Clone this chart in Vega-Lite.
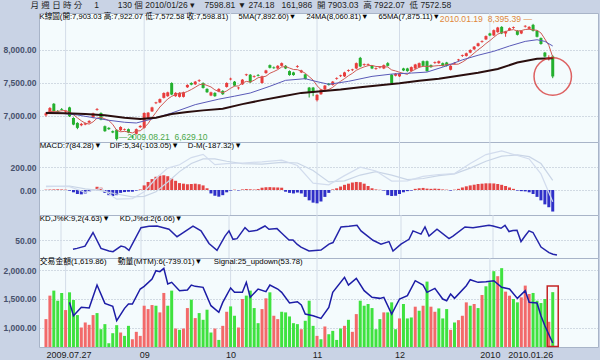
{
"$schema": "https://vega.github.io/schema/vega-lite/v6.json",
"background": "#c9d3e5",
"padding": {"left": 2, "right": 3, "top": 0, "bottom": 0},
"spacing": 0,
"bounds": "flush",
"title": {"text": "月\u00a0週\u00a0日\u00a0時\u00a0分\u00a0\u00a0\u00a0\u00a0\u00a01\u00a0\u00a0\u00a0\u00a0\u00a0\u00a0\u00a0\u00a0130\u00a0個\u00a02010/01/26\u00a0▾\u00a0\u00a0\u00a0\u00a07598.81\u00a0▼\u00a0274.18\u00a0\u00a0\u00a0161,986\u00a0\u00a0開\u00a07903.03\u00a0\u00a0高\u00a07922.07\u00a0\u00a0低\u00a07572.58", "anchor": "start", "fontSize": 8.5, "fontWeight": "normal", "color": "#1e1e1e", "offset": 3, "dx": 28},
"config": {
  "font": "Liberation Sans, Noto Sans CJK TC, sans-serif",
  "view": {"fill": "#f4fbfd", "stroke": "#a8b4c8"},
  "axisY": {"minExtent": 36, "maxExtent": 36, "ticks": false, "domain": false, "labelFontWeight": "bold", "labelFontSize": 8.5, "labelColor": "#46516c", "gridDash": [1, 2], "gridColor": "#aeb9c8", "labelPadding": 3},
  "legend": {"labelFont": "Liberation Sans, Noto Sans CJK TC, sans-serif"}
},
"resolve": {"scale": {"x": "independent", "y": "independent", "color": "independent"}},
"datasets": {
  "months": [{"i":5},{"i":25},{"i":47},{"i":69},{"i":90},{"i":113}],
  "k": [
{"i":0,"o":7010,"h":7060,"l":6990,"c":7040,"m5":7050},
{"i":1,"o":7040,"h":7135,"l":7030,"c":7120,"m5":7065},
{"i":2,"o":7185,"h":7195,"l":7060,"c":7070,"m5":7070},
{"i":3,"o":7075,"h":7090,"l":7050,"c":7060,"m5":7070},
{"i":4,"o":7106,"h":7120,"l":7085,"c":7094,"m5":7078},
{"i":5,"o":7060,"h":7085,"l":7045,"c":7070,"m5":7084},
{"i":6,"o":7130,"h":7140,"l":6985,"c":6995,"m5":7059},
{"i":7,"o":6970,"h":6980,"l":6860,"c":6870,"m5":7019},
{"i":8,"o":6895,"h":6905,"l":6800,"c":6820,"m5":6971},
{"i":9,"o":6860,"h":6895,"l":6845,"c":6880,"m5":6927},
{"i":10,"o":6870,"h":6900,"l":6860,"c":6890,"m5":6891},
{"i":11,"o":6900,"h":6935,"l":6890,"c":6925,"m5":6877},
{"i":12,"o":6975,"h":7050,"l":6965,"c":7040,"m5":6911},
{"i":13,"o":7092,"h":7120,"l":7080,"c":7104,"m5":6967},
{"i":14,"o":7045,"h":7055,"l":6935,"c":6945,"m5":6980},
{"i":15,"o":6845,"h":6855,"l":6760,"c":6770,"m5":6956},
{"i":16,"o":6820,"h":6830,"l":6790,"c":6800,"m5":6931},
{"i":17,"o":6770,"h":6780,"l":6740,"c":6750,"m5":6873},
{"i":18,"o":6790,"h":6800,"l":6629.1,"c":6650,"m5":6783},
{"i":19,"o":6785,"h":6845,"l":6770,"c":6833,"m5":6761},
{"i":20,"o":6790,"h":6810,"l":6780,"c":6800,"m5":6767},
{"i":21,"o":6800,"h":6810,"l":6740,"c":6750,"m5":6757},
{"i":22,"o":6688,"h":6710,"l":6660,"c":6676,"m5":6743},
{"i":23,"o":6730,"h":6810,"l":6720,"c":6800,"m5":6773},
{"i":24,"o":6830,"h":6860,"l":6820,"c":6850,"m5":6776},
{"i":25,"o":6820,"h":7055,"l":6810,"c":7045,"m5":6825},
{"i":26,"o":6970,"h":7060,"l":6960,"c":7050,"m5":6885},
{"i":27,"o":7070,"h":7140,"l":7060,"c":7130,"m5":6975},
{"i":28,"o":7194,"h":7215,"l":7180,"c":7206,"m5":7055},
{"i":29,"o":7205,"h":7265,"l":7195,"c":7255,"m5":7136},
{"i":30,"o":7275,"h":7358,"l":7265,"c":7348,"m5":7197},
{"i":31,"o":7300,"h":7368,"l":7290,"c":7358,"m5":7258},
{"i":32,"o":7500,"h":7510,"l":7315,"c":7325,"m5":7297},
{"i":33,"o":7300,"h":7360,"l":7290,"c":7350,"m5":7327},
{"i":34,"o":7290,"h":7360,"l":7280,"c":7350,"m5":7346},
{"i":35,"o":7290,"h":7368,"l":7280,"c":7358,"m5":7348},
{"i":36,"o":7435,"h":7480,"l":7425,"c":7470,"m5":7371},
{"i":37,"o":7500,"h":7510,"l":7465,"c":7475,"m5":7401},
{"i":38,"o":7480,"h":7530,"l":7470,"c":7520,"m5":7435},
{"i":39,"o":7529,"h":7555,"l":7515,"c":7541,"m5":7472},
{"i":40,"o":7500,"h":7510,"l":7415,"c":7425,"m5":7485},
{"i":41,"o":7410,"h":7420,"l":7350,"c":7360,"m5":7463},
{"i":42,"o":7310,"h":7368,"l":7300,"c":7358,"m5":7440},
{"i":43,"o":7350,"h":7360,"l":7290,"c":7300,"m5":7396},
{"i":44,"o":7370,"h":7420,"l":7360,"c":7410,"m5":7371},
{"i":45,"o":7380,"h":7390,"l":7320,"c":7330,"m5":7352},
{"i":46,"o":7440,"h":7510,"l":7430,"c":7500,"m5":7380},
{"i":47,"o":7554,"h":7580,"l":7540,"c":7566,"m5":7420},
{"i":48,"o":7520,"h":7530,"l":7450,"c":7460,"m5":7452},
{"i":49,"o":7419,"h":7440,"l":7400,"c":7431,"m5":7455},
{"i":50,"o":7480,"h":7560,"l":7470,"c":7550,"m5":7499},
{"i":51,"o":7619,"h":7640,"l":7605,"c":7631,"m5":7524},
{"i":52,"o":7625,"h":7635,"l":7500,"c":7510,"m5":7514},
{"i":53,"o":7594,"h":7615,"l":7580,"c":7606,"m5":7542},
{"i":54,"o":7621,"h":7635,"l":7600,"c":7609,"m5":7580},
{"i":55,"o":7500,"h":7610,"l":7490,"c":7600,"m5":7590},
{"i":56,"o":7650,"h":7700,"l":7640,"c":7690,"m5":7603},
{"i":57,"o":7770,"h":7780,"l":7720,"c":7730,"m5":7647},
{"i":58,"o":7736,"h":7750,"l":7715,"c":7724,"m5":7673},
{"i":59,"o":7720,"h":7770,"l":7710,"c":7760,"m5":7702},
{"i":60,"o":7760,"h":7810,"l":7750,"c":7800,"m5":7742},
{"i":61,"o":7760,"h":7770,"l":7710,"c":7720,"m5":7748},
{"i":62,"o":7680,"h":7690,"l":7610,"c":7620,"m5":7726},
{"i":63,"o":7660,"h":7670,"l":7610,"c":7620,"m5":7704},
{"i":64,"o":7744,"h":7770,"l":7730,"c":7756,"m5":7702},
{"i":65,"o":7660,"h":7700,"l":7650,"c":7690,"m5":7680},
{"i":66,"o":7630,"h":7640,"l":7550,"c":7560,"m5":7648},
{"i":67,"o":7430,"h":7440,"l":7280,"c":7360,"m5":7596},
{"i":68,"o":7430,"h":7440,"l":7300,"c":7360,"m5":7544},
{"i":69,"o":7240,"h":7330,"l":7220,"c":7320,"m5":7458},
{"i":70,"o":7330,"h":7410,"l":7320,"c":7400,"m5":7400},
{"i":71,"o":7400,"h":7470,"l":7390,"c":7460,"m5":7380},
{"i":72,"o":7490,"h":7500,"l":7460,"c":7470,"m5":7402},
{"i":73,"o":7470,"h":7530,"l":7460,"c":7520,"m5":7434},
{"i":74,"o":7564,"h":7585,"l":7550,"c":7576,"m5":7484},
{"i":75,"o":7604,"h":7625,"l":7590,"c":7616,"m5":7526},
{"i":76,"o":7600,"h":7670,"l":7590,"c":7660,"m5":7566},
{"i":77,"o":7684,"h":7705,"l":7670,"c":7696,"m5":7610},
{"i":78,"o":7694,"h":7715,"l":7680,"c":7706,"m5":7646},
{"i":79,"o":7720,"h":7810,"l":7710,"c":7800,"m5":7692},
{"i":80,"o":7880,"h":7895,"l":7740,"c":7750,"m5":7720},
{"i":81,"o":7774,"h":7795,"l":7760,"c":7786,"m5":7744},
{"i":82,"o":7774,"h":7795,"l":7760,"c":7786,"m5":7762},
{"i":83,"o":7760,"h":7770,"l":7710,"c":7720,"m5":7766},
{"i":84,"o":7714,"h":7735,"l":7700,"c":7726,"m5":7750},
{"i":85,"o":7734,"h":7755,"l":7720,"c":7746,"m5":7748},
{"i":86,"o":7720,"h":7780,"l":7710,"c":7770,"m5":7746},
{"i":87,"o":7800,"h":7815,"l":7750,"c":7760,"m5":7742},
{"i":88,"o":7625,"h":7635,"l":7470,"c":7500,"m5":7698},
{"i":89,"o":7610,"h":7650,"l":7600,"c":7640,"m5":7682},
{"i":90,"o":7600,"h":7650,"l":7590,"c":7640,"m5":7662},
{"i":91,"o":7720,"h":7730,"l":7680,"c":7690,"m5":7646},
{"i":92,"o":7720,"h":7730,"l":7670,"c":7680,"m5":7630},
{"i":93,"o":7680,"h":7750,"l":7670,"c":7740,"m5":7678},
{"i":94,"o":7720,"h":7790,"l":7710,"c":7780,"m5":7706},
{"i":95,"o":7740,"h":7810,"l":7730,"c":7800,"m5":7738},
{"i":96,"o":7830,"h":7840,"l":7750,"c":7760,"m5":7752},
{"i":97,"o":7830,"h":7840,"l":7670,"c":7680,"m5":7752},
{"i":98,"o":7770,"h":7780,"l":7730,"c":7740,"m5":7752},
{"i":99,"o":7804,"h":7825,"l":7790,"c":7816,"m5":7758},
{"i":100,"o":7800,"h":7840,"l":7790,"c":7830,"m5":7764},
{"i":101,"o":7800,"h":7810,"l":7750,"c":7760,"m5":7764},
{"i":102,"o":7810,"h":7820,"l":7750,"c":7760,"m5":7780},
{"i":103,"o":7700,"h":7770,"l":7690,"c":7760,"m5":7784},
{"i":104,"o":7794,"h":7815,"l":7780,"c":7806,"m5":7782},
{"i":105,"o":7844,"h":7865,"l":7830,"c":7856,"m5":7786},
{"i":106,"o":7909,"h":7930,"l":7895,"c":7921,"m5":7817},
{"i":107,"o":7910,"h":7960,"l":7900,"c":7950,"m5":7855},
{"i":108,"o":7960,"h":8010,"l":7950,"c":8000,"m5":7903},
{"i":109,"o":8010,"h":8060,"l":8000,"c":8050,"m5":7953},
{"i":110,"o":8060,"h":8110,"l":8050,"c":8100,"m5":8003},
{"i":111,"o":8124,"h":8145,"l":8110,"c":8136,"m5":8046},
{"i":112,"o":8160,"h":8220,"l":8150,"c":8210,"m5":8098},
{"i":113,"o":8250,"h":8260,"l":8210,"c":8220,"m5":8142},
{"i":114,"o":8220,"h":8310,"l":8210,"c":8300,"m5":8192},
{"i":115,"o":8270,"h":8350,"l":8260,"c":8340,"m5":8240},
{"i":116,"o":8350,"h":8360,"l":8240,"c":8250,"m5":8264},
{"i":117,"o":8250,"h":8290,"l":8200,"c":8280,"m5":8278},
{"i":118,"o":8300,"h":8340,"l":8290,"c":8330,"m5":8300},
{"i":119,"o":8334,"h":8355,"l":8320,"c":8346,"m5":8308},
{"i":120,"o":8290,"h":8300,"l":8220,"c":8230,"m5":8286},
{"i":121,"o":8250,"h":8300,"l":8240,"c":8290,"m5":8294},
{"i":122,"o":8354,"h":8375,"l":8340,"c":8366,"m5":8310},
{"i":123,"o":8320,"h":8360,"l":8310,"c":8350,"m5":8314},
{"i":124,"o":8380,"h":8395.39,"l":8280,"c":8290,"m5":8304},
{"i":125,"o":8290,"h":8300,"l":8190,"c":8200,"m5":8298},
{"i":126,"o":8180,"h":8190,"l":8080,"c":8090,"m5":8258},
{"i":127,"o":7960,"h":7970,"l":7890,"c":7900,"m5":8166},
{"i":128,"o":7860,"h":7920,"l":7840,"c":7873,"m5":8071},
{"i":129,"o":7903.03,"h":7922.07,"l":7572.58,"c":7598.81,"m5":7892.6}
  ],
  "m24": [{"i":0,"v":7055},{"i":4,"v":7040},{"i":8,"v":7015},{"i":12,"v":6975},{"i":16,"v":6935},{"i":20,"v":6905},{"i":23,"v":6894},{"i":27,"v":6955},{"i":32,"v":7045},{"i":38,"v":7172},{"i":44,"v":7255},{"i":48,"v":7300},{"i":52,"v":7348},{"i":57,"v":7450},{"i":61,"v":7540},{"i":66,"v":7565},{"i":69,"v":7520},{"i":72,"v":7480},{"i":77,"v":7525},{"i":83,"v":7600},{"i":88,"v":7635},{"i":93,"v":7650},{"i":97,"v":7665},{"i":102,"v":7760},{"i":106,"v":7850},{"i":110,"v":7920},{"i":114,"v":7980},{"i":118,"v":8060},{"i":122,"v":8130},{"i":125,"v":8155},{"i":127,"v":8130},{"i":129,"v":8060.81}],
  "m65": [{"i":0,"v":7045},{"i":5,"v":7040},{"i":10,"v":7030},{"i":15,"v":7010},{"i":20,"v":6975},{"i":24,"v":6955},{"i":28,"v":6975},{"i":32,"v":7030},{"i":36,"v":7060},{"i":40,"v":7085},{"i":45,"v":7110},{"i":50,"v":7180},{"i":55,"v":7240},{"i":60,"v":7295},{"i":65,"v":7350},{"i":70,"v":7375},{"i":75,"v":7400},{"i":80,"v":7435},{"i":85,"v":7465},{"i":90,"v":7495},{"i":95,"v":7535},{"i":100,"v":7565},{"i":105,"v":7610},{"i":110,"v":7655},{"i":115,"v":7712},{"i":120,"v":7810},{"i":125,"v":7868},{"i":129,"v":7875.11}],
  "hist": [{"i":0,"v":3},{"i":1,"v":4},{"i":2,"v":5},{"i":3,"v":6},{"i":4,"v":5},{"i":5,"v":3},{"i":6,"v":-6},{"i":7,"v":-20},{"i":8,"v":-35},{"i":9,"v":-38},{"i":10,"v":-30},{"i":11,"v":-15},{"i":12,"v":5},{"i":13,"v":28},{"i":14,"v":20},{"i":15,"v":-25},{"i":16,"v":-45},{"i":17,"v":-52},{"i":18,"v":-45},{"i":19,"v":-25},{"i":20,"v":-18},{"i":21,"v":-15},{"i":22,"v":-15},{"i":23,"v":-5},{"i":24,"v":5},{"i":25,"v":40},{"i":26,"v":70},{"i":27,"v":95},{"i":28,"v":115},{"i":29,"v":125},{"i":30,"v":128},{"i":31,"v":120},{"i":32,"v":100},{"i":33,"v":80},{"i":34,"v":60},{"i":35,"v":55},{"i":36,"v":50},{"i":37,"v":52},{"i":38,"v":55},{"i":39,"v":50},{"i":40,"v":40},{"i":41,"v":15},{"i":42,"v":-30},{"i":43,"v":-50},{"i":44,"v":-58},{"i":45,"v":-45},{"i":46,"v":-20},{"i":47,"v":-5},{"i":48,"v":3},{"i":49,"v":-4},{"i":50,"v":5},{"i":51,"v":8},{"i":52,"v":6},{"i":53,"v":4},{"i":54,"v":8},{"i":55,"v":20},{"i":56,"v":24},{"i":57,"v":25},{"i":58,"v":23},{"i":59,"v":22},{"i":60,"v":20},{"i":61,"v":-15},{"i":62,"v":-25},{"i":63,"v":-30},{"i":64,"v":-22},{"i":65,"v":-30},{"i":66,"v":-60},{"i":67,"v":-90},{"i":68,"v":-110},{"i":69,"v":-116},{"i":70,"v":-100},{"i":71,"v":-60},{"i":72,"v":-25},{"i":73,"v":5},{"i":74,"v":15},{"i":75,"v":30},{"i":76,"v":45},{"i":77,"v":55},{"i":78,"v":65},{"i":79,"v":70},{"i":80,"v":68},{"i":81,"v":55},{"i":82,"v":35},{"i":83,"v":15},{"i":84,"v":5},{"i":85,"v":2},{"i":86,"v":-5},{"i":87,"v":-45},{"i":88,"v":-52},{"i":89,"v":-50},{"i":90,"v":-35},{"i":91,"v":-20},{"i":92,"v":-10},{"i":93,"v":-5},{"i":94,"v":10},{"i":95,"v":15},{"i":96,"v":18},{"i":97,"v":12},{"i":98,"v":10},{"i":99,"v":12},{"i":100,"v":10},{"i":101,"v":5},{"i":102,"v":3},{"i":103,"v":-5},{"i":104,"v":3},{"i":105,"v":10},{"i":106,"v":22},{"i":107,"v":32},{"i":108,"v":40},{"i":109,"v":46},{"i":110,"v":52},{"i":111,"v":55},{"i":112,"v":58},{"i":113,"v":58},{"i":114,"v":57},{"i":115,"v":52},{"i":116,"v":45},{"i":117,"v":35},{"i":118,"v":22},{"i":119,"v":10},{"i":120,"v":-5},{"i":121,"v":-10},{"i":122,"v":-12},{"i":123,"v":-20},{"i":124,"v":-35},{"i":125,"v":-60},{"i":126,"v":-90},{"i":127,"v":-125},{"i":128,"v":-150},{"i":129,"v":-187.32}],
  "macd": [{"i":0,"v":30},{"i":6,"v":35},{"i":10,"v":10},{"i":14,"v":-5},{"i":18,"v":-35},{"i":22,"v":-60},{"i":25,"v":-55},{"i":28,"v":-15},{"i":31,"v":70},{"i":34,"v":160},{"i":37,"v":230},{"i":40,"v":270},{"i":43,"v":270},{"i":46,"v":250},{"i":50,"v":230},{"i":55,"v":225},{"i":60,"v":240},{"i":64,"v":235},{"i":68,"v":170},{"i":72,"v":70},{"i":76,"v":80},{"i":80,"v":130},{"i":84,"v":160},{"i":88,"v":130},{"i":92,"v":90},{"i":96,"v":100},{"i":100,"v":125},{"i":104,"v":140},{"i":108,"v":190},{"i":112,"v":250},{"i":116,"v":295},{"i":120,"v":305},{"i":123,"v":290},{"i":126,"v":230},{"i":129,"v":84.28}],
  "dif": [{"i":0,"v":33},{"i":6,"v":29},{"i":10,"v":-20},{"i":14,"v":15},{"i":18,"v":-80},{"i":22,"v":-75},{"i":25,"v":-15},{"i":28,"v":100},{"i":31,"v":190},{"i":34,"v":220},{"i":37,"v":282},{"i":40,"v":310},{"i":43,"v":220},{"i":46,"v":230},{"i":50,"v":235},{"i":55,"v":245},{"i":60,"v":260},{"i":64,"v":213},{"i":68,"v":60},{"i":72,"v":45},{"i":76,"v":125},{"i":80,"v":198},{"i":84,"v":165},{"i":88,"v":78},{"i":92,"v":80},{"i":96,"v":118},{"i":100,"v":135},{"i":104,"v":143},{"i":108,"v":230},{"i":112,"v":308},{"i":116,"v":340},{"i":120,"v":300},{"i":123,"v":270},{"i":126,"v":140},{"i":129,"v":-103.05}],
  "kd": [{"i":8,"v":22},{"i":9,"v":25},{"i":11,"v":32},{"i":13,"v":74},{"i":15,"v":25},{"i":17,"v":17},{"i":18,"v":15},{"i":20,"v":32},{"i":21,"v":29},{"i":22,"v":19},{"i":25,"v":89},{"i":27,"v":93},{"i":29,"v":94},{"i":32,"v":84},{"i":34,"v":61},{"i":35,"v":69},{"i":38,"v":94},{"i":40,"v":79},{"i":42,"v":40},{"i":44,"v":19},{"i":46,"v":63},{"i":47,"v":79},{"i":48,"v":53},{"i":49,"v":55},{"i":51,"v":89},{"i":52,"v":77},{"i":54,"v":81},{"i":56,"v":94},{"i":57,"v":84},{"i":59,"v":86},{"i":60,"v":74},{"i":62,"v":51},{"i":63,"v":51},{"i":64,"v":38},{"i":65,"v":29},{"i":67,"v":17},{"i":70,"v":20},{"i":72,"v":38},{"i":73,"v":43},{"i":75,"v":91},{"i":77,"v":93},{"i":79,"v":96},{"i":80,"v":79},{"i":83,"v":50},{"i":85,"v":38},{"i":87,"v":46},{"i":88,"v":17},{"i":90,"v":38},{"i":92,"v":53},{"i":93,"v":79},{"i":95,"v":69},{"i":96,"v":91},{"i":97,"v":63},{"i":99,"v":84},{"i":102,"v":55},{"i":103,"v":63},{"i":106,"v":91},{"i":108,"v":89},{"i":112,"v":96},{"i":113,"v":94},{"i":115,"v":87},{"i":116,"v":96},{"i":117,"v":77},{"i":118,"v":80},{"i":119,"v":81},{"i":120,"v":46},{"i":121,"v":63},{"i":122,"v":79},{"i":123,"v":74},{"i":125,"v":29},{"i":127,"v":12},{"i":128,"v":7},{"i":129,"v":4.63}],
  "vol": [{"i":0,"v":1147,"r":1},{"i":1,"v":1559,"r":1},{"i":2,"v":1647,"r":0},{"i":3,"v":1470,"r":0},{"i":4,"v":1605,"r":0},{"i":5,"v":1306,"r":1},{"i":6,"v":1617,"r":0},{"i":7,"v":1482,"r":0},{"i":8,"v":1218,"r":0},{"i":9,"v":1000,"r":1},{"i":10,"v":1088,"r":1},{"i":11,"v":1047,"r":1},{"i":12,"v":1218,"r":1},{"i":13,"v":1253,"r":0},{"i":14,"v":970,"r":0},{"i":15,"v":1059,"r":0},{"i":16,"v":724,"r":0},{"i":17,"v":900,"r":0},{"i":18,"v":1041,"r":0},{"i":19,"v":912,"r":1},{"i":20,"v":853,"r":0},{"i":21,"v":1029,"r":0},{"i":22,"v":794,"r":1},{"i":23,"v":924,"r":1},{"i":24,"v":853,"r":1},{"i":25,"v":1382,"r":1},{"i":26,"v":1323,"r":1},{"i":27,"v":1394,"r":1},{"i":28,"v":1382,"r":0},{"i":29,"v":1265,"r":1},{"i":30,"v":1606,"r":1},{"i":31,"v":1382,"r":0},{"i":32,"v":1647,"r":0},{"i":33,"v":982,"r":1},{"i":34,"v":959,"r":0},{"i":35,"v":982,"r":1},{"i":36,"v":1341,"r":1},{"i":37,"v":1488,"r":0},{"i":38,"v":1165,"r":1},{"i":39,"v":1253,"r":0},{"i":40,"v":1135,"r":0},{"i":41,"v":1312,"r":0},{"i":42,"v":912,"r":0},{"i":43,"v":982,"r":1},{"i":44,"v":782,"r":0},{"i":45,"v":1029,"r":1},{"i":46,"v":1276,"r":1},{"i":47,"v":1370,"r":0},{"i":48,"v":1206,"r":0},{"i":49,"v":1000,"r":1},{"i":50,"v":1500,"r":1},{"i":51,"v":1559,"r":0},{"i":52,"v":1647,"r":0},{"i":53,"v":1341,"r":0},{"i":54,"v":1076,"r":0},{"i":55,"v":1323,"r":1},{"i":56,"v":1512,"r":1},{"i":57,"v":1617,"r":0},{"i":58,"v":1206,"r":1},{"i":59,"v":1147,"r":1},{"i":60,"v":1276,"r":0},{"i":61,"v":1265,"r":0},{"i":62,"v":1194,"r":0},{"i":63,"v":1076,"r":0},{"i":64,"v":1059,"r":0},{"i":65,"v":970,"r":1},{"i":66,"v":1118,"r":0},{"i":67,"v":1470,"r":0},{"i":68,"v":1029,"r":0},{"i":69,"v":853,"r":1},{"i":70,"v":794,"r":0},{"i":71,"v":1018,"r":1},{"i":72,"v":882,"r":0},{"i":73,"v":941,"r":0},{"i":74,"v":782,"r":0},{"i":75,"v":982,"r":0},{"i":76,"v":1029,"r":1},{"i":77,"v":1135,"r":0},{"i":78,"v":924,"r":1},{"i":79,"v":1235,"r":1},{"i":80,"v":1470,"r":0},{"i":81,"v":1382,"r":0},{"i":82,"v":1412,"r":0},{"i":83,"v":1341,"r":0},{"i":84,"v":970,"r":0},{"i":85,"v":1147,"r":0},{"i":86,"v":1265,"r":1},{"i":87,"v":1265,"r":0},{"i":88,"v":1441,"r":0},{"i":89,"v":970,"r":0},{"i":90,"v":1159,"r":1},{"i":91,"v":1412,"r":0},{"i":92,"v":1159,"r":0},{"i":93,"v":1176,"r":0},{"i":94,"v":1365,"r":1},{"i":95,"v":1294,"r":0},{"i":96,"v":1382,"r":1},{"i":97,"v":1805,"r":0},{"i":98,"v":1365,"r":1},{"i":99,"v":1276,"r":1},{"i":100,"v":1335,"r":0},{"i":101,"v":1159,"r":0},{"i":102,"v":1323,"r":0},{"i":103,"v":959,"r":1},{"i":104,"v":1088,"r":0},{"i":105,"v":1129,"r":1},{"i":106,"v":1206,"r":1},{"i":107,"v":1441,"r":1},{"i":108,"v":1382,"r":0},{"i":109,"v":1412,"r":1},{"i":110,"v":1341,"r":0},{"i":111,"v":1570,"r":1},{"i":112,"v":1723,"r":0},{"i":113,"v":1794,"r":0},{"i":114,"v":1988,"r":0},{"i":115,"v":1900,"r":1},{"i":116,"v":2041,"r":0},{"i":117,"v":1629,"r":1},{"i":118,"v":1559,"r":1},{"i":119,"v":1500,"r":0},{"i":120,"v":1441,"r":0},{"i":121,"v":1529,"r":1},{"i":122,"v":1735,"r":1},{"i":123,"v":1588,"r":1},{"i":124,"v":1606,"r":0},{"i":125,"v":1470,"r":0},{"i":126,"v":1429,"r":0},{"i":127,"v":1500,"r":0},{"i":128,"v":1100,"r":1},{"i":129,"v":1619.86,"r":0}],
  "mtm": [{"i":6,"v":-56},{"i":7,"v":-280},{"i":9,"v":-140},{"i":11,"v":-151},{"i":13,"v":235},{"i":15,"v":-73},{"i":17,"v":-123},{"i":18,"v":-364},{"i":20,"v":-157},{"i":21,"v":-84},{"i":22,"v":-84},{"i":24,"v":168},{"i":25,"v":213},{"i":27,"v":336},{"i":28,"v":476},{"i":29,"v":459},{"i":30,"v":515},{"i":31,"v":252},{"i":32,"v":280},{"i":34,"v":140},{"i":36,"v":151},{"i":37,"v":235},{"i":38,"v":213},{"i":40,"v":196},{"i":42,"v":-112},{"i":44,"v":-224},{"i":45,"v":-56},{"i":47,"v":185},{"i":48,"v":112},{"i":50,"v":112},{"i":51,"v":280},{"i":52,"v":28},{"i":54,"v":168},{"i":56,"v":123},{"i":57,"v":235},{"i":59,"v":168},{"i":60,"v":112},{"i":62,"v":-67},{"i":64,"v":-45},{"i":65,"v":-100},{"i":66,"v":-252},{"i":68,"v":-280},{"i":70,"v":-325},{"i":72,"v":-140},{"i":73,"v":112},{"i":76,"v":364},{"i":77,"v":235},{"i":79,"v":347},{"i":81,"v":140},{"i":83,"v":28},{"i":85,"v":11},{"i":86,"v":28},{"i":88,"v":-252},{"i":90,"v":0},{"i":92,"v":56},{"i":94,"v":308},{"i":96,"v":235},{"i":97,"v":112},{"i":99,"v":179},{"i":101,"v":0},{"i":102,"v":-28},{"i":103,"v":84},{"i":104,"v":11},{"i":107,"v":224},{"i":108,"v":325},{"i":110,"v":280},{"i":112,"v":291},{"i":114,"v":308},{"i":116,"v":196},{"i":118,"v":168},{"i":120,"v":11},{"i":122,"v":140},{"i":123,"v":-56},{"i":125,"v":-67},{"i":126,"v":-280},{"i":127,"v":-448},{"i":129,"v":-739.01}]
},
"vconcat": [
  {
    "width": 559, "height": 129,
    "layer": [
      {"data": {"name": "months"}, "mark": {"type": "rule", "color": "#d3dce8", "strokeWidth": 1},
       "encoding": {"x": {"field": "i", "type": "quantitative", "scale": {"domain": [-0.5, 139.25], "nice": false, "zero": false}, "axis": null}}},
      {"data": {"name": "k"}, "mark": {"type": "rule", "strokeWidth": 1},
       "encoding": {"x": {"field": "i", "type": "quantitative", "axis": null},
         "y": {"field": "l", "type": "quantitative", "title": null, "scale": {"domain": [6606, 8560], "nice": false, "zero": false}, "axis": {"values": [7000, 7500, 8000], "format": ",.2f", "title": null, "grid": true}},
         "y2": {"field": "h"},
         "color": {"condition": {"test": "datum.c >= datum.o", "value": "#e23a3a"}, "value": "#1f9e2a"}}},
      {"data": {"name": "k"}, "mark": {"type": "bar", "size": 3},
       "encoding": {"x": {"field": "i", "type": "quantitative", "axis": null},
         "y": {"field": "o", "type": "quantitative", "title": null, "axis": {"values": [7000, 7500, 8000], "format": ",.2f", "title": null, "grid": true}},
         "y2": {"field": "c"},
         "color": {"condition": {"test": "datum.c >= datum.o", "value": "#e83c3c"}, "value": "#23b02e"}}},
      {"data": {"name": "k"}, "mark": {"type": "line", "strokeWidth": 1},
       "encoding": {"x": {"field": "i", "type": "quantitative", "axis": null},
         "y": {"field": "m5", "type": "quantitative", "title": null, "axis": {"values": [7000, 7500, 8000], "format": ",.2f", "title": null, "grid": true}},
         "color": {"datum": "5MA(7,892.60)▼",
           "scale": {"domain": ["K線圖(開:7,903.03 高:7,922.07 低:7,572.58 收:7,598.81)", "5MA(7,892.60)▼", "24MA(8,060.81)▼", "65MA(7,875.11)▼"], "range": ["#2a2a2a", "#cf5a55", "#5a5ab8", "#2a0e0e"]},
           "legend": {"title": null, "orient": "none", "legendX": -7, "legendY": 0, "direction": "horizontal", "symbolSize": 0, "symbolStrokeWidth": 0, "labelOffset": 0, "columnPadding": 2, "labelFontSize": 7.6, "labelLimit": 600,
             "encode": {"labels": {"fill": {"condition": [{"test": "indexof(datum.label,'5MA')==0", "value": "#d04545"}, {"test": "indexof(datum.label,'24MA')==0", "value": "#3a3ab0"}], "value": "#2a2a2a"}}}}}}},
      {"data": {"name": "m24"}, "mark": {"type": "line", "strokeWidth": 1},
       "encoding": {"x": {"field": "i", "type": "quantitative", "axis": null},
         "y": {"field": "v", "type": "quantitative", "title": null, "axis": {"values": [7000, 7500, 8000], "format": ",.2f", "title": null, "grid": true}},
         "color": {"datum": "24MA(8,060.81)▼"}}},
      {"data": {"name": "m65"}, "mark": {"type": "line", "strokeWidth": 2},
       "encoding": {"x": {"field": "i", "type": "quantitative", "axis": null},
         "y": {"field": "v", "type": "quantitative", "title": null, "axis": {"values": [7000, 7500, 8000], "format": ",.2f", "title": null, "grid": true}},
         "color": {"datum": "65MA(7,875.11)▼"}}},
      {"data": {"name": "k"}, "transform": [{"filter": "datum.i == 129"}],
       "mark": {"type": "point", "shape": "circle", "filled": false, "size": 1400, "strokeWidth": 1.5, "color": "#d42020"},
       "encoding": {"x": {"field": "i", "type": "quantitative", "axis": null}, "y": {"field": "c", "type": "quantitative", "title": null, "axis": {"values": [7000, 7500, 8000], "format": ",.2f", "title": null, "grid": true}}}},
      {"data": {"name": "k"}, "transform": [{"filter": "datum.i == 18"}],
       "mark": {"type": "text", "align": "left", "baseline": "middle", "dx": 2, "dy": -3, "fontSize": 8.5, "color": "#4aa84a", "text": "—2009.08.21\u00a0\u00a06,629.10"},
       "encoding": {"x": {"field": "i", "type": "quantitative", "axis": null}, "y": {"field": "l", "type": "quantitative", "title": null, "axis": {"values": [7000, 7500, 8000], "format": ",.2f", "title": null, "grid": true}}}},
      {"data": {"name": "k"}, "transform": [{"filter": "datum.i == 124"}],
       "mark": {"type": "text", "align": "right", "baseline": "middle", "dx": -1, "dy": -5, "fontSize": 8.6, "color": "#e0873a", "text": "2010.01.19\u00a0\u00a08,395.39 —"},
       "encoding": {"x": {"field": "i", "type": "quantitative", "axis": null}, "y": {"field": "h", "type": "quantitative", "title": null, "axis": {"values": [7000, 7500, 8000], "format": ",.2f", "title": null, "grid": true}}}}
    ]
  },
  {
    "width": 559, "height": 73,
    "layer": [
      {"data": {"name": "months"}, "mark": {"type": "rule", "color": "#d3dce8", "strokeWidth": 1},
       "encoding": {"x": {"field": "i", "type": "quantitative", "scale": {"domain": [-0.5, 139.25], "nice": false, "zero": false}, "axis": null}}},
      {"data": {"name": "hist"}, "mark": {"type": "bar", "size": 3},
       "encoding": {"x": {"field": "i", "type": "quantitative", "axis": null},
         "y": {"field": "v", "type": "quantitative", "title": null, "scale": {"domain": [-217.5, 417.6], "nice": false, "zero": false}, "axis": {"values": [0, 200], "format": ",.2f", "title": null, "grid": true}},
         "y2": {"datum": 0},
         "color": {"condition": {"test": "datum.v >= 0", "value": "#e44444"}, "value": "#2f2fc8"}}},
      {"mark": {"type": "rule", "color": "#5a5a5a", "strokeWidth": 1}, "encoding": {"y": {"datum": 0, "type": "quantitative", "title": null, "axis": {"values": [0, 200], "format": ",.2f", "title": null, "grid": true}}}},
      {"data": {"name": "macd"}, "mark": {"type": "line", "strokeWidth": 1.2},
       "encoding": {"x": {"field": "i", "type": "quantitative", "axis": null},
         "y": {"field": "v", "type": "quantitative", "title": null, "axis": {"values": [0, 200], "format": ",.2f", "title": null, "grid": true}},
         "color": {"datum": "MACD:7(84.28)▼",
           "scale": {"domain": ["MACD:7(84.28)▼", "DIF:5,34(-103.05)▼", "D-M(-187.32)▼"], "range": ["#c9d5e6", "#d2dced", "#e04848"]},
           "legend": {"title": null, "orient": "none", "legendX": -7, "legendY": 0, "direction": "horizontal", "symbolSize": 0, "symbolStrokeWidth": 0, "labelOffset": 0, "columnPadding": 0, "labelFontSize": 7.8, "labelLimit": 600,
             "encode": {"labels": {"fill": {"condition": [{"test": "indexof(datum.label,'D-M')==0", "value": "#d84040"}], "value": "#bcc8d8"}}}}}}},
      {"data": {"name": "dif"}, "mark": {"type": "line", "strokeWidth": 1.2},
       "encoding": {"x": {"field": "i", "type": "quantitative", "axis": null},
         "y": {"field": "v", "type": "quantitative", "title": null, "axis": {"values": [0, 200], "format": ",.2f", "title": null, "grid": true}},
         "color": {"datum": "DIF:5,34(-103.05)▼"}}},
      {"mark": {"type": "text", "align": "left", "baseline": "middle", "dx": -2, "fontSize": 8, "color": "#555555", "text": "[0]"},
       "encoding": {"x": {"datum": 0, "type": "quantitative", "axis": null}, "y": {"datum": 0, "type": "quantitative", "title": null, "axis": {"values": [0, 200], "format": ",.2f", "title": null, "grid": true}}}}
    ]
  },
  {
    "width": 559, "height": 43,
    "layer": [
      {"data": {"name": "months"}, "mark": {"type": "rule", "color": "#d3dce8", "strokeWidth": 1},
       "encoding": {"x": {"field": "i", "type": "quantitative", "scale": {"domain": [-0.5, 139.25], "nice": false, "zero": false}, "axis": null}}},
      {"data": {"name": "kd"}, "mark": {"type": "line", "strokeWidth": 1.5},
       "encoding": {"x": {"field": "i", "type": "quantitative", "axis": null},
         "y": {"field": "v", "type": "quantitative", "title": null, "scale": {"domain": [-4.7, 128], "nice": false, "zero": false}, "axis": {"values": [50], "format": ",.2f", "title": null, "grid": true}},
         "color": {"datum": "KD,J%K:9,2(4.63)▼",
           "scale": {"domain": ["KD,J%K:9,2(4.63)▼", "KD,J%d:2(6.06)▼"], "range": ["#2424aa", "#c9d5e6"]},
           "legend": {"title": null, "orient": "none", "legendX": -7, "legendY": 0, "direction": "horizontal", "symbolSize": 0, "symbolStrokeWidth": 0, "labelOffset": 0, "columnPadding": 2, "labelFontSize": 7.8, "labelLimit": 600,
             "encode": {"labels": {"fill": {"condition": [{"test": "indexof(datum.label,'KD,J%K')==0", "value": "#2a2ab0"}], "value": "#c2ccda"}}}}}}}
    ]
  },
  {
    "width": 559, "height": 89,
    "resolve": {"scale": {"y": "independent"}},
    "layer": [
      {"layer": [
        {"data": {"name": "months"}, "mark": {"type": "rule", "color": "#d3dce8", "strokeWidth": 1},
         "encoding": {"x": {"field": "i", "type": "quantitative", "title": null, "scale": {"domain": [-0.5, 139.25], "nice": false, "zero": false},
             "axis": {"values": [0, 25, 47, 69, 90, 113, 129], "grid": false, "ticks": false, "domain": false, "title": null, "labelFontSize": 9, "labelColor": "#1a1a1a", "labelPadding": 3, "labelExpr": "datum.value == 0 ? '2009.07.27' : datum.value == 25 ? '09' : datum.value == 47 ? '10' : datum.value == 69 ? '11' : datum.value == 90 ? '12' : datum.value == 113 ? '2010' : '2010.01.26'", "labelAlign": {"condition": [{"test": "datum.value == 0", "value": "left"}, {"test": "datum.value == 129", "value": "right"}], "value": "center"}}}}},
        {"data": {"name": "vol"}, "mark": {"type": "bar", "size": 3, "clip": true},
         "encoding": {"x": {"field": "i", "type": "quantitative", "title": null,
             "axis": {"values": [0, 25, 47, 69, 90, 113, 129], "grid": false, "ticks": false, "domain": false, "title": null, "labelFontSize": 9, "labelColor": "#1a1a1a", "labelPadding": 3, "labelExpr": "datum.value == 0 ? '2009.07.27' : datum.value == 25 ? '09' : datum.value == 47 ? '10' : datum.value == 69 ? '11' : datum.value == 90 ? '12' : datum.value == 113 ? '2010' : '2010.01.26'", "labelAlign": {"condition": [{"test": "datum.value == 0", "value": "left"}, {"test": "datum.value == 129", "value": "right"}], "value": "center"}}},
           "y": {"field": "v", "type": "quantitative", "title": null, "scale": {"domain": [658, 2219], "nice": false, "zero": false}, "axis": {"values": [1000, 1500, 2000], "format": ",.2f", "title": null, "grid": true}},
           "y2": {"datum": 658},
           "color": {"condition": {"test": "datum.r == 1", "value": "#f26a6a"}, "value": "#3fe23f"}}},
        {"mark": {"type": "rule", "color": "#8c8c8c", "strokeWidth": 1}, "encoding": {"y": {"datum": 1500, "type": "quantitative", "title": null, "axis": {"values": [1000, 1500, 2000], "format": ",.2f", "title": null, "grid": true}}}},
        {"mark": {"type": "text", "align": "left", "baseline": "middle", "dx": -2, "fontSize": 8, "color": "#555555", "text": "[0]"},
         "encoding": {"x": {"datum": 0, "type": "quantitative", "title": null,
             "axis": {"values": [0, 25, 47, 69, 90, 113, 129], "grid": false, "ticks": false, "domain": false, "title": null, "labelFontSize": 9, "labelColor": "#1a1a1a", "labelPadding": 3, "labelExpr": "datum.value == 0 ? '2009.07.27' : datum.value == 25 ? '09' : datum.value == 47 ? '10' : datum.value == 69 ? '11' : datum.value == 90 ? '12' : datum.value == 113 ? '2010' : '2010.01.26'", "labelAlign": {"condition": [{"test": "datum.value == 0", "value": "left"}, {"test": "datum.value == 129", "value": "right"}], "value": "center"}}},
           "y": {"datum": 1500, "type": "quantitative", "title": null, "axis": {"values": [1000, 1500, 2000], "format": ",.2f", "title": null, "grid": true}}}},
        {"data": {"name": "vol"}, "transform": [{"filter": "datum.i == 129"}],
         "mark": {"type": "bar", "size": 11, "filled": false, "color": "#c42424", "strokeWidth": 1.5},
         "encoding": {"x": {"field": "i", "type": "quantitative", "title": null,
             "axis": {"values": [0, 25, 47, 69, 90, 113, 129], "grid": false, "ticks": false, "domain": false, "title": null, "labelFontSize": 9, "labelColor": "#1a1a1a", "labelPadding": 3, "labelExpr": "datum.value == 0 ? '2009.07.27' : datum.value == 25 ? '09' : datum.value == 47 ? '10' : datum.value == 69 ? '11' : datum.value == 90 ? '12' : datum.value == 113 ? '2010' : '2010.01.26'", "labelAlign": {"condition": [{"test": "datum.value == 0", "value": "left"}, {"test": "datum.value == 129", "value": "right"}], "value": "center"}}},
           "y": {"datum": 1730, "type": "quantitative", "title": null, "axis": {"values": [1000, 1500, 2000], "format": ",.2f", "title": null, "grid": true}}, "y2": {"datum": 668}}}
      ]},
      {"data": {"name": "mtm"}, "mark": {"type": "line", "strokeWidth": 1.5},
       "encoding": {"x": {"field": "i", "type": "quantitative", "title": null,
             "axis": {"values": [0, 25, 47, 69, 90, 113, 129], "grid": false, "ticks": false, "domain": false, "title": null, "labelFontSize": 9, "labelColor": "#1a1a1a", "labelPadding": 3, "labelExpr": "datum.value == 0 ? '2009.07.27' : datum.value == 25 ? '09' : datum.value == 47 ? '10' : datum.value == 69 ? '11' : datum.value == 90 ? '12' : datum.value == 113 ? '2010' : '2010.01.26'", "labelAlign": {"condition": [{"test": "datum.value == 0", "value": "left"}, {"test": "datum.value == 129", "value": "right"}], "value": "center"}}},
         "y": {"field": "v", "type": "quantitative", "scale": {"domain": [-806, 689], "nice": false, "zero": false}, "axis": null},
         "color": {"datum": "動量(MTM):6(-739.01)▼",
           "scale": {"domain": ["交易金額(1,619.86)", "動量(MTM):6(-739.01)▼", "Signal:25_updown(53.78)"], "range": ["#2a2a2a", "#1c1ca6", "#ccd5e2"]},
           "legend": {"title": null, "orient": "none", "legendX": -7, "legendY": 0, "direction": "horizontal", "symbolSize": 0, "symbolStrokeWidth": 0, "labelOffset": 0, "columnPadding": 3, "labelFontSize": 7.8, "labelLimit": 600,
             "encode": {"labels": {"fill": {"condition": [{"test": "indexof(datum.label,'動量')==0", "value": "#2a2ab0"}, {"test": "indexof(datum.label,'Signal')==0", "value": "#c8d0dc"}], "value": "#2a2a2a"}}}}}}}
    ]
  }
]
}
